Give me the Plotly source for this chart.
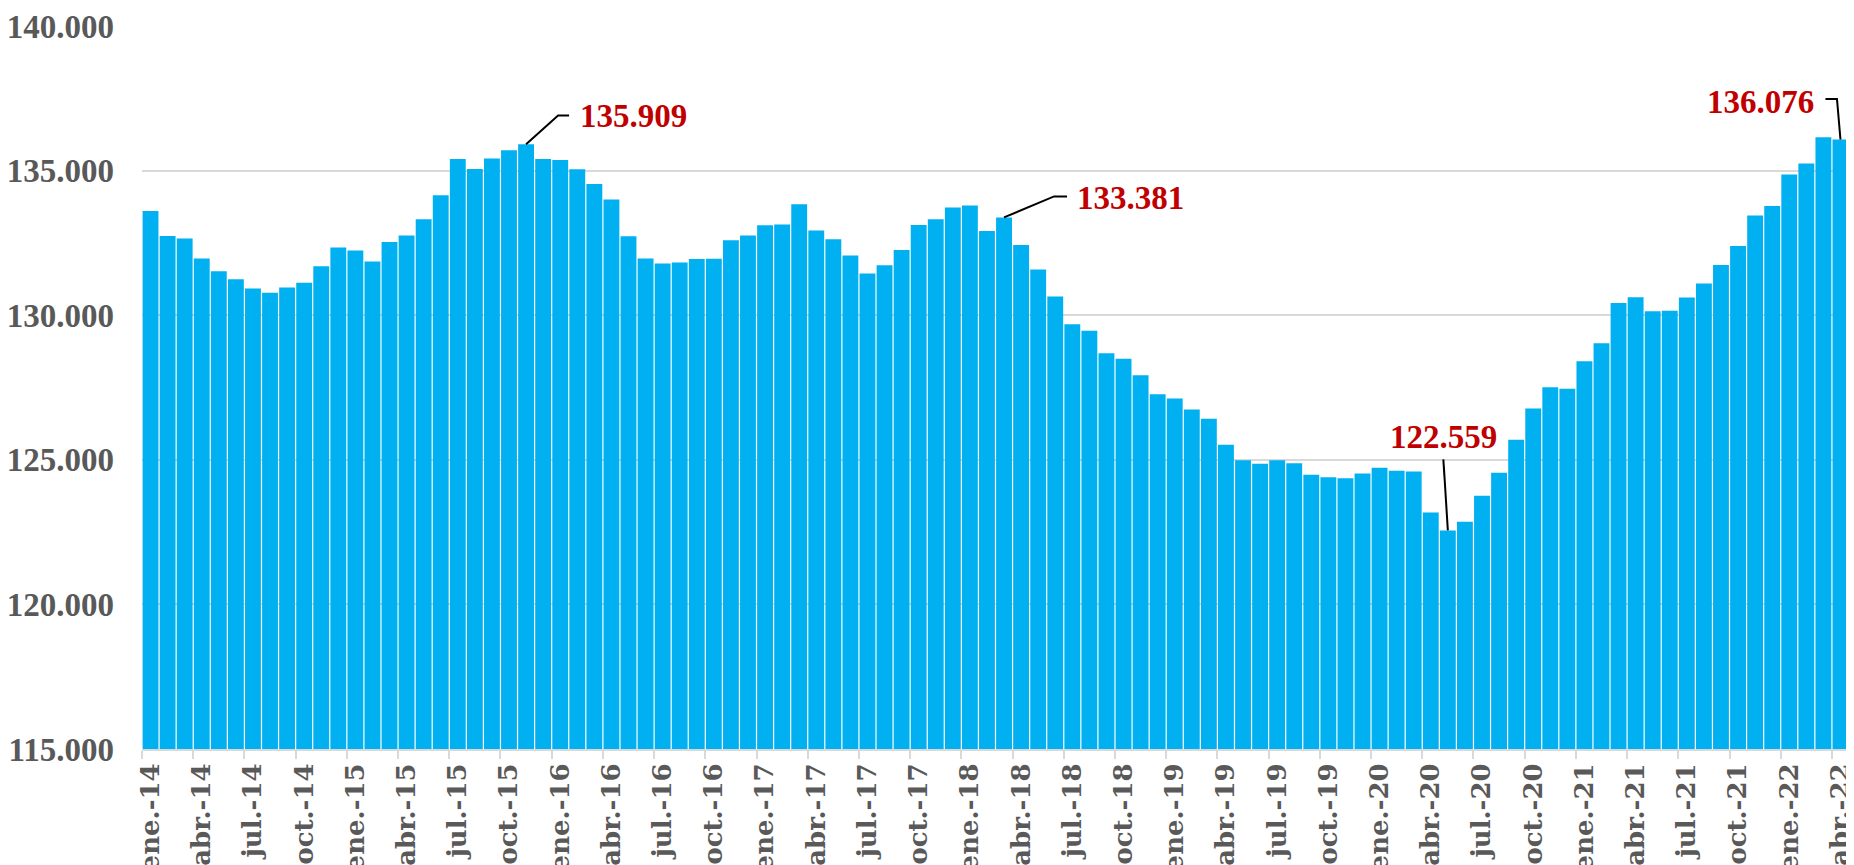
import plotly.graph_objects as go

# ---------------- data ----------------
month_abbr = ["ene.", "feb.", "mar.", "abr.", "may.", "jun.",
              "jul.", "ago.", "sep.", "oct.", "nov.", "dic."]
years = ["14", "15", "16", "17", "18", "19", "20", "21", "22"]
categories = [f"{m}-{y}" for y in years for m in month_abbr][:100]

values = [
    133606, 132742, 132650, 131959, 131521, 131244, 130922, 130772, 130956, 131118, 131694, 132339,  # 2014
    132235, 131855, 132535, 132753, 133318, 134147, 135403, 135058, 135415, 135703, 135909, 135403,  # 2015
    135369, 135046, 134539, 133998, 132730, 131959, 131786, 131820, 131947, 131950, 132592, 132753,  # 2016
    133111, 133134, 133836, 132926, 132627, 132062, 131440, 131728, 132258, 133122, 133318, 133721,  # 2017
    133790, 132915, 133381, 132431, 131578, 130645, 129689, 129459, 128687, 128491, 127926, 127270,  # 2018
    127120, 126740, 126417, 125519, 124988, 124862, 124988, 124885, 124481, 124400, 124366, 124527,  # 2019
    124723, 124619, 124596, 123178, 122559, 122855, 123755, 124550, 125692, 126774, 127512, 127455,  # 2020
    128410, 129032, 130426, 130622, 130138, 130150, 130611, 131094, 131740, 132396, 133445, 133779,  # 2021
    134862, 135242, 136152, 136076,                                                                  # 2022
]

y_ticks = [115000, 120000, 125000, 130000, 135000, 140000]

# highlighted points: category index, label
highlight_idx = [22, 50, 76, 99]
highlight_text = ["135.909", "133.381", "122.559", "136.076"]

# ---------------- styling ----------------
BAR = "#00B0F0"
GRID = "#D9D9D9"
TXT = "#595959"
RED = "#C00000"
FONT = "Liberation Serif"
XFONT = "DejaVu Serif"

fig = go.Figure(go.Bar(
    x=categories, y=values,
    marker=dict(color=BAR, line=dict(width=0)),
    hoverinfo="x+y",
))

# leader-line geometry (pixel offsets relative to bar top, +y up) and label offsets
leader_paths = [
    "M0,0 L32,28.7 L43,28.7",
    "M0,0 L50,21 L63,21",
    "M0,0 L-4.5,71",
    "M0,0 L-3.5,40.5 L-15,40.5",
]
label_pos = [  # xshift, yshift, xanchor
    (52, 28, "left"),
    (70.5, 19, "left"),
    (-4.5, 93, "center"),
    (-24.5, 37.5, "right"),
]

shapes = []
annotations = []
for k, i in enumerate(highlight_idx):
    shapes.append(dict(
        type="path", xref="x", yref="y",
        xsizemode="pixel", ysizemode="pixel",
        xanchor=categories[i], yanchor=values[i],
        path=leader_paths[k],
        line=dict(color="black", width=2),
    ))
    xs, ys, xa = label_pos[k]
    annotations.append(dict(
        x=categories[i], y=values[i], xref="x", yref="y",
        text=highlight_text[k], showarrow=False,
        xanchor=xa, yanchor="middle", xshift=xs, yshift=ys,
        font=dict(family=FONT, size=33, color=RED, weight="bold"),
    ))

# the page body adds an 8px offset, so the figure is sized to fill the rest
fig.update_layout(
    width=1846, height=857,
    margin=dict(l=134, r=5, t=18, b=116),
    paper_bgcolor="white", plot_bgcolor="white",
    bargap=0.07,
    separators=",.",
    showlegend=False,
    shapes=shapes,
    annotations=annotations,
    xaxis=dict(
        type="category",
        automargin=False,
        tickmode="linear", tick0=0, dtick=3,
        tickson="boundaries",
        ticks="outside", ticklen=8, tickwidth=2, tickcolor=GRID,
        tickangle=-90,
        tickfont=dict(family=XFONT, size=26, color=TXT, weight="bold"),
        showgrid=False,
        showline=True, linecolor=GRID, linewidth=2,
        ticklabelstandoff=2,
    ),
    yaxis=dict(
        automargin=False,
        range=[115000, 140000],
        tickvals=y_ticks,
        tickformat=",.0f",
        tickfont=dict(family=FONT, size=33, color=TXT, weight="bold"),
        showgrid=True, gridcolor=GRID, gridwidth=2,
        zeroline=False, showline=False,
        ticks="", ticklabelstandoff=27,
    ),
)

fig.write_html("out.html")
